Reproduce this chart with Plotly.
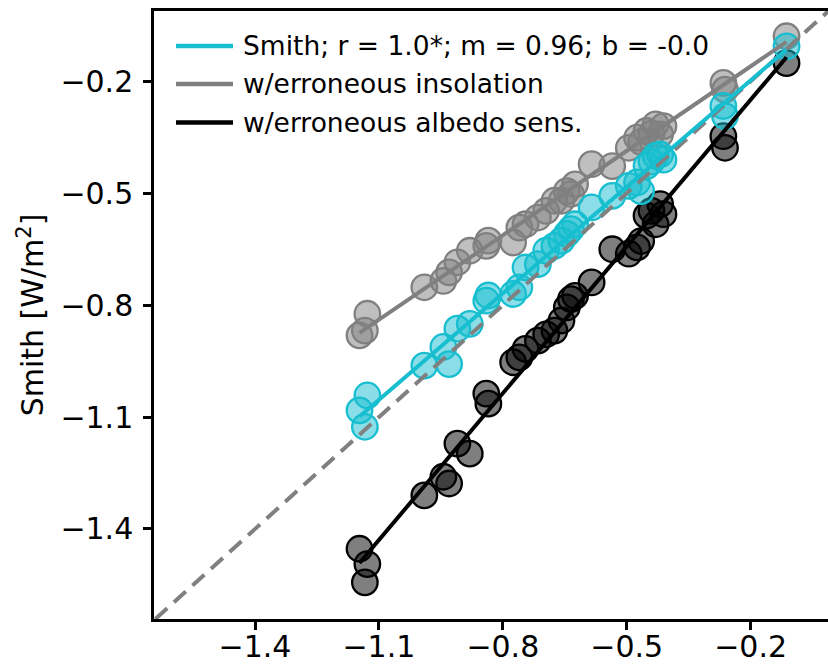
import numpy as np
import plotly.graph_objects as go

# ---- data ----
x_vals = [-1.147, -1.134, -1.128, -0.990, -0.944, -0.930, -0.910, -0.880, -0.840, -0.835,
          -0.775, -0.760, -0.745, -0.715, -0.695, -0.675, -0.658, -0.645, -0.635, -0.625,
          -0.585, -0.535, -0.495, -0.475, -0.465, -0.452, -0.440, -0.430, -0.419, -0.411,
          -0.266, -0.262, -0.113]

smith_y = [-1.082, -1.126, -1.042, -0.962, -0.912, -0.958, -0.863, -0.850, -0.788, -0.774,
           -0.770, -0.752, -0.699, -0.690, -0.654, -0.641, -0.627, -0.609, -0.596, -0.583,
           -0.538, -0.507, -0.480, -0.471, -0.494, -0.427, -0.415, -0.400, -0.396, -0.410,
           -0.266, -0.293, -0.106]

insolation_y = [-0.881, -0.868, -0.823, -0.752, -0.735, -0.712, -0.685, -0.654, -0.641, -0.627,
                -0.632, -0.592, -0.583, -0.565, -0.547, -0.520, -0.520, -0.494, -0.502, -0.476,
                -0.422, -0.427, -0.378, -0.351, -0.362, -0.333, -0.340, -0.315, -0.342, -0.320,
                -0.204, -0.222, -0.079]

albedo_y = [-1.453, -1.543, -1.494, -1.310, -1.260, -1.278, -1.171, -1.198, -1.037, -1.064,
            -0.953, -0.940, -0.917, -0.895, -0.878, -0.868, -0.841, -0.806, -0.784, -0.775,
            -0.739, -0.650, -0.662, -0.645, -0.628, -0.560, -0.547, -0.583, -0.529, -0.556,
            -0.347, -0.378, -0.151]

labels = ["Smith; r = 1.0*; m = 0.96; b = -0.0",
          "w/erroneous insolation",
          "w/erroneous albedo sens."]

tick_vals = [-1.4, -1.1, -0.8, -0.5, -0.2]
tick_text = ["\u22121.4", "\u22121.1", "\u22120.8", "\u22120.5", "\u22120.2"]

x_range = [-1.6446, -0.0126]
y_range = [-1.6413, -0.0113]

CYAN = "#17becf"
GRAY = "#808080"
BLACK = "#000000"

fig = go.Figure()

series = [
    (insolation_y, "rgba(128,128,128,0.5)", GRAY, labels[1]),
    (albedo_y, "rgba(0,0,0,0.5)", BLACK, labels[2]),
    (smith_y, "rgba(23,190,207,0.5)", CYAN, labels[0]),
]

for ys, fill, edge, name in series:
    fig.add_trace(go.Scatter(
        x=x_vals, y=ys, mode="markers", name=name, showlegend=False,
        marker=dict(size=25.5, color=fill, line=dict(color=edge, width=2.3)),
    ))

# 1:1 reference line across the axis limits
lo = max(x_range[0], y_range[0])
hi = min(x_range[1], y_range[1])
fig.add_trace(go.Scatter(
    x=[lo, hi], y=[lo, hi], mode="lines", showlegend=False,
    line=dict(color=GRAY, width=4, dash="16px,9px"),
))

# regression lines
xa = np.array(x_vals)
xs = np.array([xa.min(), xa.max()])
for ys, fill, edge, name in series:
    m, b = np.polyfit(xa, np.array(ys), 1)
    fig.add_trace(go.Scatter(
        x=xs, y=m * xs + b, mode="lines", name=name, showlegend=False,
        line=dict(color=edge, width=4),
    ))

# manual legend (no frame)
W, H = 828, 667
L, R, T, B = 154, 0, 11, 48
pw, ph = W - L - R, H - T - B
leg_rows = [(46, CYAN, labels[0]), (84, GRAY, labels[1]), (122.5, BLACK, labels[2])]
for py, col, txt in leg_rows:
    yp = (H - B - py) / ph
    fig.add_shape(type="line", xref="paper", yref="paper",
                  x0=(176 - L) / pw, x1=(233 - L) / pw, y0=yp, y1=yp,
                  line=dict(color=col, width=4.5))
    fig.add_annotation(xref="paper", yref="paper", x=(241 - L) / pw, y=yp,
                       xanchor="left", yanchor="middle", text=txt, showarrow=False,
                       font=dict(size=26.5, color="black", family="DejaVu Sans"))

axis_common = dict(
    showgrid=False, zeroline=False, showline=True, linecolor="black", linewidth=2.5,
    ticks="outside", ticklen=8, tickwidth=2.5, tickcolor="black",
    tickvals=tick_vals, ticktext=tick_text,
    tickfont=dict(size=30, color="black", family="DejaVu Sans"),
)

fig.update_layout(
    width=W, height=H,
    margin=dict(l=L, r=R, t=T, b=B, autoexpand=False),
    paper_bgcolor="white", plot_bgcolor="white",
    font=dict(family="DejaVu Sans", color="black"),
    xaxis=dict(range=x_range, mirror=True, ticklabelstandoff=-9, **axis_common),
    yaxis=dict(range=y_range, mirror=False, ticklabelstandoff=4,
               title=dict(text="Smith [W/m<sup>2</sup>]", standoff=8,
                          font=dict(size=30, color="black", family="DejaVu Sans")),
               **axis_common),
)

fig.write_html(
    "out.html",
    config={"displayModeBar": False},
    post_script="document.body.style.margin='0';document.body.style.padding='0';"
                "document.body.style.overflow='hidden';",
)
